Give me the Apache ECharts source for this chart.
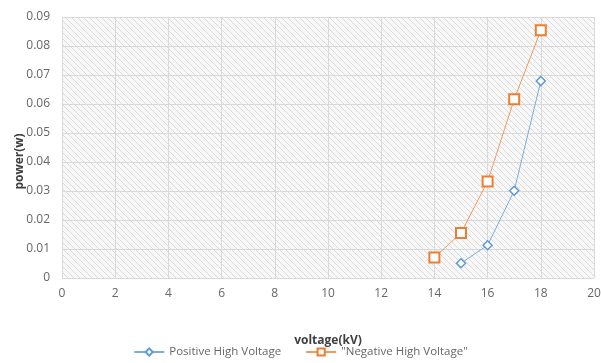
<!DOCTYPE html>
<html><head><meta charset="utf-8">
<script src="https://cdn.jsdelivr.net/npm/echarts@6/dist/echarts.min.js"></script>
<style>html,body{margin:0;padding:0;background:#fff}#c{width:601px;height:363px}</style>
</head><body><div id="c"></div>
<script>
const positiveX = [15, 16, 17, 18];
const positiveY = [0.0051, 0.0113, 0.0301, 0.0679];
const negativeX = [14, 15, 16, 17, 18];
const negativeY = [0.0071, 0.0155, 0.0333, 0.0616, 0.0854];
const seriesNames = ['Positive High Voltage', '"Negative High Voltage"'];

const pc = document.createElement('canvas');
pc.width = 6; pc.height = 6;
const g = pc.getContext('2d');
g.fillStyle = '#f8f8f8'; g.fillRect(0,0,6,6);
g.strokeStyle = '#dadada'; g.lineWidth = 1;
g.beginPath();
g.moveTo(-1,-1); g.lineTo(7,7);
g.moveTo(-7,-1); g.lineTo(1,7);
g.moveTo(5,-1); g.lineTo(13,7);
g.stroke();

const font = 'Open Sans';
const chart = echarts.init(document.getElementById('c'));
chart.setOption({
  animation: false,
  textStyle: {fontFamily: font},
  grid: {left: 62, right: 7, top: 17, bottom: 85, outerBoundsMode: 'none', containLabel: false,
         show: true, backgroundColor: {image: pc, repeat: 'repeat'}, borderWidth: 0},
  xAxis: {
    type: 'value', min: 0, max: 20, interval: 2,
    name: 'voltage(kV)', nameLocation: 'middle', nameGap: 57, nameMoveOverlap: false,
    nameTextStyle: {fontWeight: 'bold', fontSize: 12, color: '#404040', fontFamily: font},
    axisLine: {show: false}, axisTick: {show: false},
    axisLabel: {color: '#666', fontSize: 12, margin: 10, fontFamily: font},
    splitLine: {lineStyle: {color: '#d9d9d9'}}
  },
  yAxis: {
    type: 'value', min: 0, max: 0.09, interval: 0.01,
    name: 'power(w)', nameLocation: 'middle', nameGap: 36, nameMoveOverlap: false,
    nameTextStyle: {fontWeight: 'bold', fontSize: 12, color: '#404040', fontFamily: font, padding: [0, 28, 0, 0]},
    axisLine: {show: false}, axisTick: {show: false},
    axisLabel: {color: '#666', fontSize: 12, margin: 12, fontFamily: font, formatter: v => v === 0 ? '0' : v.toFixed(2)},
    splitLine: {lineStyle: {color: '#d9d9d9'}}
  },
  legend: {
    bottom: 0, left: 'center', itemGap: 24, itemWidth: 30, itemHeight: 9,
    textStyle: {color: '#666', fontSize: 11.5, fontFamily: font},
    data: seriesNames
  },
  series: [
    {name: seriesNames[0], type: 'line', data: positiveX.map((x,i)=>[x, positiveY[i]]),
     symbol: 'diamond', symbolSize: 9, color: '#5b9bd5',
     lineStyle: {width: 1, color: '#7aaede'},
     itemStyle: {color: '#fff', borderColor: '#5b9bd5', borderWidth: 1.5}},
    {name: seriesNames[1], type: 'line', data: negativeX.map((x,i)=>[x, negativeY[i]]),
     symbol: 'rect', symbolSize: 10, color: '#ed7d31',
     lineStyle: {width: 1, color: '#f29a5e'},
     itemStyle: {color: '#fff', borderColor: '#ed7d31', borderWidth: 2}}
  ]
});
</script></body></html>
